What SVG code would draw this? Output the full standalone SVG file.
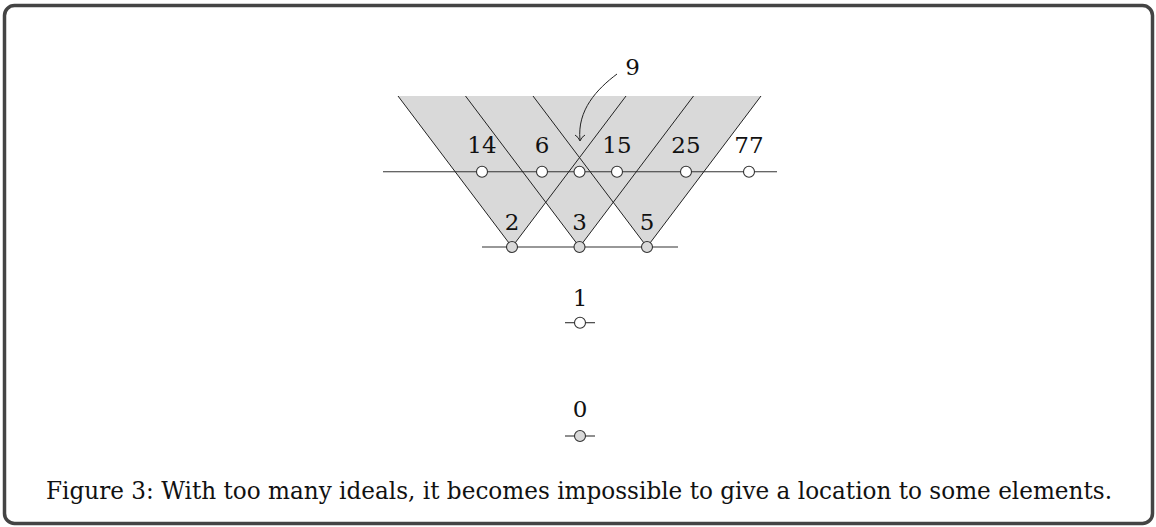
<svg xmlns="http://www.w3.org/2000/svg" width="1156" height="527" viewBox="0 0 1156 527">
<style>
.lbl{font-family:"DejaVu Serif","Liberation Serif",serif;font-size:23px;fill:#111;text-anchor:middle}
.ln{stroke:#222;stroke-width:1;fill:none}
.hl{stroke:#333;stroke-width:1.1;fill:none}
.nw{fill:#fff;stroke:#333;stroke-width:1.1}
.ng{fill:#d9d9d9;stroke:#333;stroke-width:1.1}
</style>
<rect x="4.5" y="5.5" width="1148" height="518" rx="10" fill="#fff" stroke="#444" stroke-width="3.5"/>
<polygon points="398,96 761,96 647,247 613.25,202.3 579.5,247 545.75,202.3 512,247" fill="#d9d9d9"/>
<g id="connectors">
<line class="hl" x1="383" y1="171.7" x2="777" y2="171.7"/>
<line class="hl" x1="482" y1="247" x2="678" y2="247"/>
<line class="hl" x1="565" y1="322.7" x2="595" y2="322.7"/>
<line class="hl" x1="565" y1="436" x2="595" y2="436"/>
<line class="ln" x1="512" y1="247" x2="398" y2="96"/>
<line class="ln" x1="512" y1="247" x2="626" y2="96"/>
<line class="ln" x1="579.5" y1="247" x2="465.5" y2="96"/>
<line class="ln" x1="579.5" y1="247" x2="693.5" y2="96"/>
<line class="ln" x1="647" y1="247" x2="533" y2="96"/>
<line class="ln" x1="647" y1="247" x2="761" y2="96"/>
<path class="ln" d="M617,74 C597,89 577,110 580,140"/>
<path class="ln" d="M575,135 Q578.5,137 580,141 Q581.5,137 585,135"/>
</g>
<g id="n14"><circle class="nw" cx="482" cy="171.7" r="5.5"/><text class="lbl" x="482" y="153">14</text></g>
<g id="n6"><circle class="nw" cx="542" cy="171.7" r="5.5"/><text class="lbl" x="542" y="153">6</text></g>
<g id="n9"><circle class="nw" cx="579.5" cy="171.7" r="5.5"/><text class="lbl" x="632.5" y="75">9</text></g>
<g id="n15"><circle class="nw" cx="617" cy="171.7" r="5.5"/><text class="lbl" x="617" y="153">15</text></g>
<g id="n25"><circle class="nw" cx="686" cy="171.7" r="5.5"/><text class="lbl" x="686" y="153">25</text></g>
<g id="n77"><circle class="nw" cx="749" cy="171.7" r="5.5"/><text class="lbl" x="749" y="153">77</text></g>
<g id="n2"><circle class="ng" cx="512" cy="247" r="5.5"/><text class="lbl" x="512" y="230">2</text></g>
<g id="n3"><circle class="ng" cx="579.5" cy="247" r="5.5"/><text class="lbl" x="579.5" y="230">3</text></g>
<g id="n5"><circle class="ng" cx="647" cy="247" r="5.5"/><text class="lbl" x="647" y="230">5</text></g>
<g id="n1"><circle class="nw" cx="580" cy="322.7" r="5.5"/><text class="lbl" x="580" y="306">1</text></g>
<g id="n0"><circle class="ng" cx="580" cy="436" r="5.5"/><text class="lbl" x="580" y="417">0</text></g>
<text x="46" y="499" font-family="DejaVu Serif, Liberation Serif, serif" font-size="24" fill="#111" textLength="1066" lengthAdjust="spacingAndGlyphs">Figure 3: With too many ideals, it becomes impossible to give a location to some elements.</text>
</svg>
